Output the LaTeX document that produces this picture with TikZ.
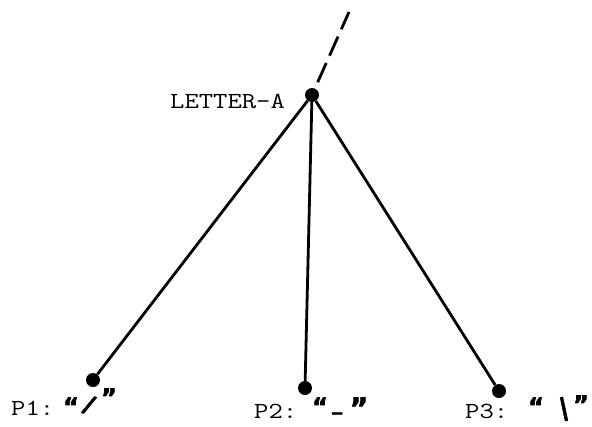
\documentclass[tikz,border=0pt]{standalone}
\usepackage{fontspec}
\newfontfamily\sym{DejaVu Sans}[FakeBold=2.5]
\newcommand{\tw}[1]{\scalebox{1.21}[1]{\fontsize{23}{26}\selectfont\ttfamily\addfontfeatures{FakeBold=1.2}#1}}
\begin{document}
\begin{tikzpicture}[x=1pt,y=-1pt,
  dotnode/.style={circle,fill=black,inner sep=0pt,minimum size=14pt},
  lbl/.style={inner sep=0pt,anchor=base west},
  qm/.style={inner sep=0pt,anchor=base,font=\fontsize{24}{28}\selectfont\sym\bfseries},
  hand/.style={inner sep=0pt,anchor=center,font=\fontsize{24}{28}\selectfont\sym\bfseries},
  edge/.style={line width=2.8pt}]
\useasboundingbox (0,0) rectangle (592,426);
\node[dotnode] (A) at (312,95) {};
\node[dotnode] (p1) at (93,380) {};
\node[dotnode] (p2) at (305,388) {};
\node[dotnode] (p3) at (499,391) {};
\coordinate (top) at (349,12);
\draw[edge,dash pattern=on 21pt off 8pt,dash phase=15pt] (A.center) -- (top);
\draw[edge] (A) -- (p1);
\draw[edge] (A) -- (p2);
\draw[edge] (A) -- (p3);
\node[lbl] (la) at (170,108) {\tw{LETTER-A}};
\node[lbl] (l1) at (11,415) {\tw{P1:}};
\node[lbl] (l2) at (254,418) {\tw{P2:}};
\node[lbl] (l3) at (465,418) {\tw{P3:}};
% P1 quotes
\node[qm] (q1o) at (71,415) {“};
\node[hand,rotate=-22] (q1m) at (89,405) {/};
\node[qm] (q1c) at (109,406) {”};
% P2 quotes
\node[qm] (q2o) at (320,415) {“};
\node[hand,font=\fontsize{20}{24}\selectfont\sym\bfseries] (q2m) at (337,412) {\_};
\node[qm,font=\fontsize{28}{32}\selectfont\sym\bfseries] (q2c) at (359,418) {”};
% P3 quotes
\node[qm] (q3o) at (536,415) {“};
\node[hand,rotate=12] (q3m) at (564,409) {|};
\node[qm] (q3c) at (581,413) {”};
\end{tikzpicture}
\end{document}
